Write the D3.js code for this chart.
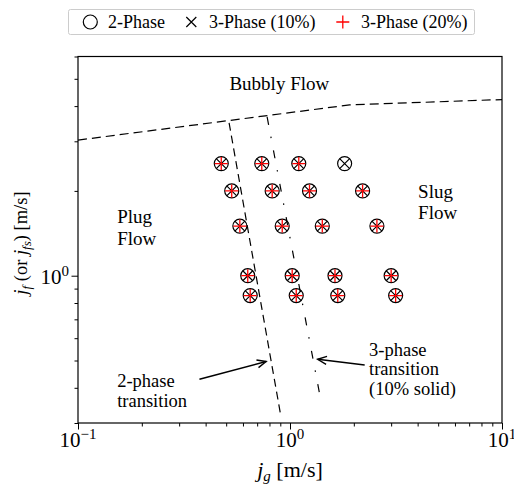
<!DOCTYPE html>
<html>
<head>
<meta charset="utf-8">
<script src="https://cdn.jsdelivr.net/npm/d3@7"></script>
<style>
  body { margin: 0; background: #fff; }
  svg text { font-family: "Liberation Serif", "DejaVu Serif", serif; fill: #000; }
</style>
</head>
<body>
<svg id="chart" width="514" height="486" font-family="Liberation Serif, DejaVu Serif, serif"></svg>
<script>
// Flow-regime map: gas flux j_g against liquid (or slurry) flux j_f, log-log.

// 2-phase (air-water) test points
const twoPhaseJg = [0.474, 0.736, 1.10, 1.81,
                    0.531, 0.824, 1.236, 2.20,
                    0.58, 0.919, 1.42, 2.57,
                    0.632, 1.024, 1.63, 3.0,
                    0.649, 1.07, 1.68, 3.15];
const twoPhaseJf = [2.5, 2.5, 2.5, 2.5,
                    2.0, 2.0, 2.0, 2.0,
                    1.5, 1.5, 1.5, 1.5,
                    1.0, 1.0, 1.0, 1.0,
                    0.85, 0.85, 0.85, 0.85];

// 3-phase test points, 10% solids
const threePhase10Jg = [0.474, 0.736, 1.10, 1.81,
                        0.531, 0.824, 1.236, 2.20,
                        0.58, 0.919, 1.42, 2.57,
                        0.632, 1.024, 1.63, 3.0,
                        0.649, 1.07, 1.68, 3.15];
const threePhase10Jf = [2.5, 2.5, 2.5, 2.5,
                        2.0, 2.0, 2.0, 2.0,
                        1.5, 1.5, 1.5, 1.5,
                        1.0, 1.0, 1.0, 1.0,
                        0.85, 0.85, 0.85, 0.85];

// 3-phase test points, 20% solids
const threePhase20Jg = [0.474, 0.736, 1.10,
                        0.531, 0.824, 1.236, 2.20,
                        0.58, 0.919, 1.42, 2.57,
                        0.632, 1.024, 1.63, 3.0,
                        0.649, 1.07, 1.68, 3.15];
const threePhase20Jf = [2.5, 2.5, 2.5,
                        2.0, 2.0, 2.0, 2.0,
                        1.5, 1.5, 1.5, 1.5,
                        1.0, 1.0, 1.0, 1.0,
                        0.85, 0.85, 0.85, 0.85];

// Regime boundaries
const bubblyJg = [0.1, 1.91, 10];
const bubblyJf = [3.03, 4.04, 4.22];
const trans2Jg = [0.516, 0.907];
const trans2Jf = [3.49, 0.315];
const trans3Jg = [0.78, 1.378];
const trans3Jf = [3.66, 0.382];

// Axis ticks
const xMajorTicks = [0.1, 1, 10];
const xMajorExp = ["\u22121", "0", "1"];
const yMajorTicks = [1];
const yMajorExp = ["0"];

const legendLabels = ["2-Phase", "3-Phase (10%)", "3-Phase (20%)"];

const FONT = "'Liberation Serif', 'DejaVu Serif', serif";
const svg = d3.select("#chart");
const plot = { left: 78, right: 502, top: 56.5, bottom: 423 };

const x = d3.scaleLog().domain([0.1, 10]).range([plot.left, plot.right]);
const y = d3.scaleLog().domain([0.3, 6]).range([plot.bottom, plot.top]);

const red = "#ff0000";

function txt(sel) {
  return sel.append("text").style("font-family", FONT).attr("fill", "#000");
}

// ---- axes ----
const xMinor = x.ticks().filter(v => !xMajorTicks.some(m => Math.abs(m - v) < 1e-9));
const yMinor = y.ticks().filter(v => !yMajorTicks.some(m => Math.abs(m - v) < 1e-9));

function styleAxis(g) {
  g.select(".domain").remove();
  g.selectAll(".tick line").attr("stroke", "#000").attr("stroke-width", 1);
  g.selectAll(".tick text").remove();
}

const gx = svg.append("g").attr("transform", `translate(0,${plot.bottom})`);
gx.append("g").call(d3.axisBottom(x).tickValues(xMinor).tickSize(3.5)).call(styleAxis);
gx.append("g").call(d3.axisBottom(x).tickValues(xMajorTicks).tickSize(6.5)).call(styleAxis);

const gy = svg.append("g").attr("transform", `translate(${plot.left},0)`);
gy.append("g").call(d3.axisLeft(y).tickValues(yMinor).tickSize(3.5)).call(styleAxis);
gy.append("g").call(d3.axisLeft(y).tickValues(yMajorTicks).tickSize(6.5)).call(styleAxis);

// power-of-ten tick labels
xMajorTicks.forEach((v, i) => {
  const t = txt(svg)
    .attr("x", x(v)).attr("y", 447)
    .attr("text-anchor", "middle")
    .style("font-size", "21px");
  t.append("tspan").text("10");
  t.append("tspan").attr("dy", -8).style("font-size", "15px").text(xMajorExp[i]);
});
yMajorTicks.forEach((v, i) => {
  const t = txt(svg)
    .attr("x", plot.left - 9).attr("y", y(v) + 8)
    .attr("text-anchor", "end")
    .style("font-size", "21px");
  t.append("tspan").text("10");
  t.append("tspan").attr("dy", -8).style("font-size", "15px").text(yMajorExp[i]);
});

// axis titles
const xt = txt(svg)
  .attr("x", 290).attr("y", 477)
  .attr("text-anchor", "middle")
  .style("font-size", "22px");
xt.append("tspan").style("font-style", "italic").text("j");
xt.append("tspan").attr("dy", 4).style("font-size", "15px").style("font-style", "italic").text("g");
xt.append("tspan").attr("dy", -4).text(" [m/s]");

const yt = txt(svg)
  .attr("transform", "translate(27,243) rotate(-90)")
  .attr("text-anchor", "middle")
  .style("font-size", "18.5px");
yt.append("tspan").style("font-style", "italic").text("j");
yt.append("tspan").attr("dy", 4).style("font-size", "13px").style("font-style", "italic").text("f");
yt.append("tspan").attr("dy", -4).text(" (or ");
yt.append("tspan").style("font-style", "italic").text("j");
yt.append("tspan").attr("dy", 4).style("font-size", "13px").style("font-style", "italic").text("fs");
yt.append("tspan").attr("dy", -4).text(") [m/s]");

// ---- plot area ----
svg.append("clipPath").attr("id", "plotclip")
  .append("rect")
  .attr("x", plot.left).attr("y", plot.top)
  .attr("width", plot.right - plot.left).attr("height", plot.bottom - plot.top);

const area = svg.append("g").attr("clip-path", "url(#plotclip)");

const line = d3.line().x(d => x(d[0])).y(d => y(d[1]));

area.append("path")
  .datum(d3.zip(bubblyJg, bubblyJf))
  .attr("d", line)
  .attr("fill", "none").attr("stroke", "#000").attr("stroke-width", 1.2)
  .attr("stroke-dasharray", "9,5");

area.append("path")
  .datum(d3.zip(trans2Jg, trans2Jf))
  .attr("d", line)
  .attr("fill", "none").attr("stroke", "#000").attr("stroke-width", 1.2)
  .attr("stroke-dasharray", "8,5");

area.append("path")
  .datum(d3.zip(trans3Jg, trans3Jf))
  .attr("d", line)
  .attr("fill", "none").attr("stroke", "#000").attr("stroke-width", 1.2)
  .attr("stroke-dasharray", "8,12,1.5,12.5");

// markers
function drawCircle(g) { g.append("circle").attr("r", 7).attr("fill", "none").attr("stroke", "#000").attr("stroke-width", 1.2); }
function drawX(g) {
  const s = 5;
  g.append("path").attr("d", `M${-s},${-s}L${s},${s}M${-s},${s}L${s},${-s}`)
    .attr("stroke", "#000").attr("stroke-width", 1.2).attr("fill", "none");
}
function drawPlus(g) {
  const s = 6.5;
  g.append("path").attr("d", `M${-s},0L${s},0M0,${-s}L0,${s}`)
    .attr("stroke", red).attr("stroke-width", 1.3).attr("fill", "none");
}

area.append("g").selectAll("g")
  .data(d3.zip(twoPhaseJg, twoPhaseJf)).join("g")
  .attr("transform", d => `translate(${x(d[0])},${y(d[1])})`)
  .each(function () { drawCircle(d3.select(this)); });

area.append("g").selectAll("g")
  .data(d3.zip(threePhase10Jg, threePhase10Jf)).join("g")
  .attr("transform", d => `translate(${x(d[0])},${y(d[1])})`)
  .each(function () { drawX(d3.select(this)); });

area.append("g").selectAll("g")
  .data(d3.zip(threePhase20Jg, threePhase20Jf)).join("g")
  .attr("transform", d => `translate(${x(d[0])},${y(d[1])})`)
  .each(function () { drawPlus(d3.select(this)); });

// frame
svg.append("rect")
  .attr("x", plot.left).attr("y", plot.top)
  .attr("width", plot.right - plot.left).attr("height", plot.bottom - plot.top)
  .attr("fill", "none").attr("stroke", "#000").attr("stroke-width", 1.2);

// ---- regime labels (anchored in data coordinates) ----
function label(lines, jg, jf, size, lh) {
  const t = txt(svg)
    .attr("x", x(jg)).attr("y", y(jf))
    .style("font-size", size + "px");
  lines.forEach((s, i) => t.append("tspan").attr("x", x(jg)).attr("dy", i ? lh : 0).text(s));
}
label(["Bubbly Flow"], 0.518, 4.55, 19, 0);
label(["Plug", "Flow"], 0.153, 1.54, 19, 22);
label(["Slug", "Flow"], 4.02, 1.89, 19, 21);
label(["2-phase", "transition"], 0.153, 0.404, 18.5, 20);
label(["3-phase", "transition", "(10% solid)"], 2.36, 0.519, 18.5, 19.5);

// arrows
svg.append("defs").append("marker")
  .attr("id", "arrowhead")
  .attr("viewBox", "-10 -6 12 12")
  .attr("refX", 0).attr("refY", 0)
  .attr("markerWidth", 12).attr("markerHeight", 12)
  .attr("markerUnits", "userSpaceOnUse")
  .attr("orient", "auto")
  .append("path")
  .attr("d", "M-9,-4L0,0L-9,4")
  .attr("fill", "none").attr("stroke", "#000").attr("stroke-width", 1.4);

function arrow(fromJg, fromJf, toJg, toJf) {
  svg.append("line")
    .attr("x1", x(fromJg)).attr("y1", y(fromJf))
    .attr("x2", x(toJg)).attr("y2", y(toJf))
    .attr("stroke", "#000").attr("stroke-width", 1.5)
    .attr("marker-end", "url(#arrowhead)");
}
arrow(0.374, 0.429, 0.772, 0.496);
arrow(2.25, 0.482, 1.35, 0.505);

// ---- legend ----
const lg = svg.append("g");
lg.append("rect")
  .attr("x", 68.5).attr("y", 9.5).attr("width", 406).attr("height", 25)
  .attr("rx", 2)
  .attr("fill", "#fff").attr("stroke", "#cccccc").attr("stroke-width", 1);
const legendMarkX = [90.3, 191.3, 342.8];
const legendTextX = [108, 209, 361];
const legendDraw = [drawCircle, drawX, drawPlus];
legendLabels.forEach((s, i) => {
  const g = lg.append("g").attr("transform", `translate(${legendMarkX[i]},22)`);
  legendDraw[i](g);
  txt(lg).attr("x", legendTextX[i]).attr("y", 27.5)
    .style("font-size", "18px").text(s);
});
</script>
</body>
</html>
